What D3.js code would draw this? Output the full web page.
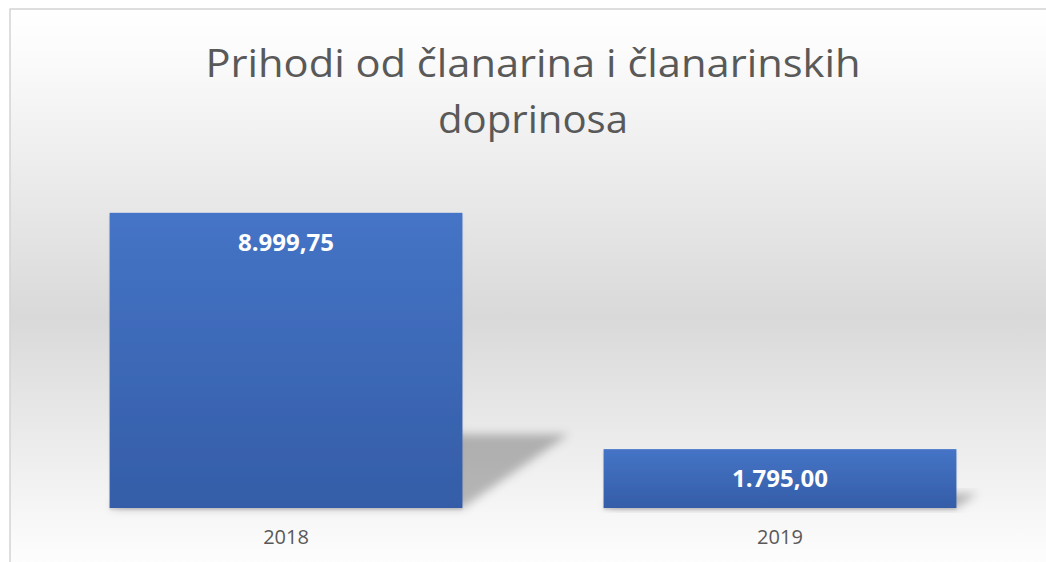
<!DOCTYPE html>
<html>
<head>
<meta charset="utf-8">
<script src="https://cdn.jsdelivr.net/npm/d3@7"></script>
<style>
  html, body { margin: 0; padding: 0; background: #ffffff; }
  svg { display: block; }
</style>
</head>
<body>
<svg id="chart" width="1046" height="562"></svg>
<script>
// ---- data ----
const categories = ["2018", "2019"];
const values = [8999.75, 1795.00];
const valueLabels = ["8.999,75", "1.795,00"];
const titleLines = ["Prihodi od članarina i članarinskih", "doprinosa"];
const yDomain = [0, 10000];

// ---- layout ----
const W = 1046, H = 562;
const svg = d3.select("#chart");
const defs = svg.append("defs");

const bg = defs.append("linearGradient").attr("id", "bgGrad")
  .attr("x1", 0).attr("y1", 0).attr("x2", 0).attr("y2", 1);
bg.append("stop").attr("offset", "0").attr("stop-color", "#ffffff");
bg.append("stop").attr("offset", "0.08").attr("stop-color", "#fbfbfb");
bg.append("stop").attr("offset", "0.53").attr("stop-color", "#d9d9d9");
bg.append("stop").attr("offset", "0.92").attr("stop-color", "#fbfbfb");
bg.append("stop").attr("offset", "1").attr("stop-color", "#ffffff");

const barGrad = defs.append("linearGradient").attr("id", "barGrad")
  .attr("x1", 0).attr("y1", 0).attr("x2", 0).attr("y2", 1);
barGrad.append("stop").attr("offset", "0").attr("stop-color", "#4574c6");
barGrad.append("stop").attr("offset", "1").attr("stop-color", "#345da7");

const blur = defs.append("filter").attr("id", "shadowBlur")
  .attr("x", "-30%").attr("y", "-30%").attr("width", "160%").attr("height", "160%");
blur.append("feGaussianBlur").attr("stdDeviation", 5);

const drop = defs.append("filter").attr("id", "drop")
  .attr("x", "-5%").attr("y", "-5%").attr("width", "110%").attr("height", "115%");
drop.append("feDropShadow").attr("dx", 0).attr("dy", 2).attr("stdDeviation", 1.2)
  .attr("flood-color", "#000").attr("flood-opacity", 0.12);

// frame
svg.append("rect")
  .attr("x", 10).attr("y", 9).attr("width", W + 20).attr("height", H + 20)
  .attr("fill", "url(#bgGrad)")
  .attr("stroke", "#d4d4d4").attr("stroke-width", 1.5);

// scales
const x = d3.scaleBand().domain(categories).range([39, 1027]).paddingInner(0.2857).paddingOuter(0.1429);
const y = d3.scaleLinear().domain(yDomain).range([508, 180]);

// perspective shadows
const shadowRatio = 0.25, skew = 1.44;
svg.append("g").selectAll("path")
  .data(categories)
  .join("path")
  .attr("d", (c, i) => {
    const x0 = x(c), x1 = x(c) + x.bandwidth();
    const base = y(0);
    const sh = (base - y(values[i])) * shadowRatio;
    const dx = sh * skew;
    return `M${x0},${base} L${x1},${base} L${x1 + dx},${base - sh} L${x0 + dx},${base - sh} Z`;
  })
  .attr("fill", "#000")
  .attr("fill-opacity", 0.26)
  .attr("filter", "url(#shadowBlur)");

// bars
svg.append("g").selectAll("rect")
  .data(categories)
  .join("rect")
  .attr("x", c => x(c))
  .attr("width", x.bandwidth())
  .attr("y", (c, i) => y(values[i]))
  .attr("height", (c, i) => y(0) - y(values[i]))
  .attr("fill", "url(#barGrad)")
  .attr("filter", "url(#drop)");

// value labels (inside end)
svg.append("g").selectAll("text")
  .data(categories)
  .join("text")
  .attr("x", c => x(c) + x.bandwidth() / 2)
  .attr("y", (c, i) => y(values[i]) + 38)
  .attr("text-anchor", "middle")
  .attr("font-family", "'Open Sans', sans-serif")
  .attr("font-weight", "bold")
  .attr("font-size", 24)
  .attr("fill", "#ffffff")
  .text((c, i) => valueLabels[i]);

// x axis (labels only)
const xAxis = svg.append("g")
  .attr("transform", `translate(0,${y(0)})`)
  .call(d3.axisBottom(x).tickSize(0).tickPadding(22));
xAxis.select(".domain").remove();
xAxis.selectAll("text")
  .attr("font-family", "'Open Sans', sans-serif")
  .attr("font-size", 20)
  .attr("fill", "#595959");

// title
const title = svg.append("g");
const titleBaselines = [77, 133];
const titleWidths = [655, 190];
titleLines.forEach((t, i) => {
  title.append("text")
    .attr("x", 533).attr("y", titleBaselines[i])
    .attr("text-anchor", "middle")
    .attr("font-family", "'Open Sans', sans-serif")
    .attr("font-size", 38)
    .attr("fill", "#595959")
    .attr("textLength", titleWidths[i])
    .attr("lengthAdjust", "spacingAndGlyphs")
    .text(t);
});
</script>
</body>
</html>
